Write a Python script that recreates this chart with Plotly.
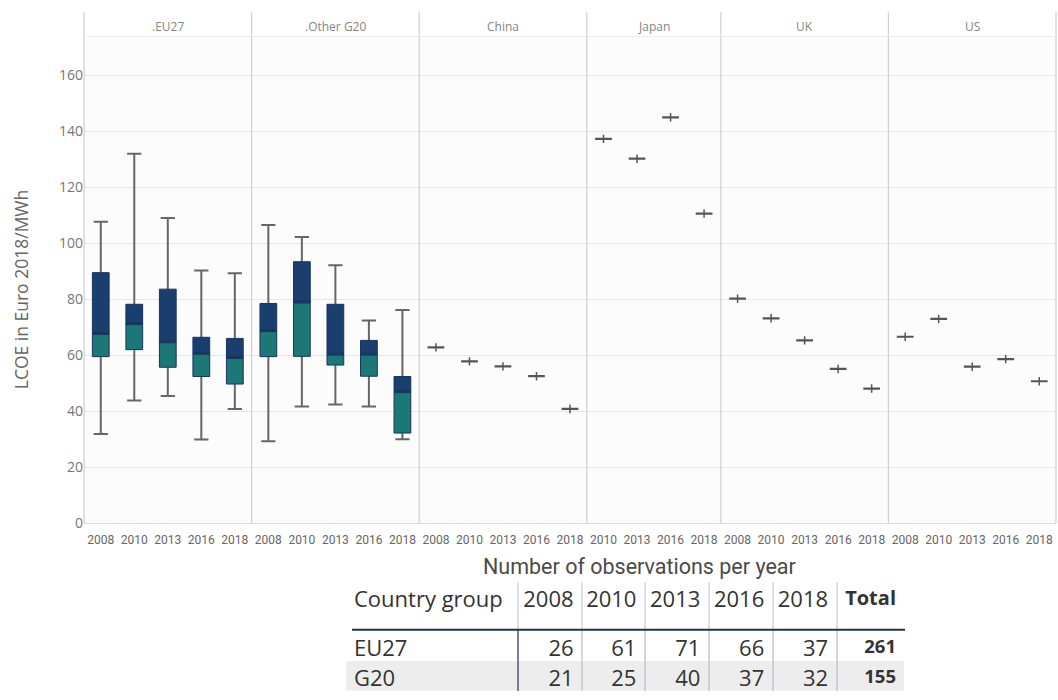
import plotly.graph_objects as go

# ---------------- data ----------------
years_all = ["2008", "2010", "2013", "2016", "2018"]
years_japan = ["2010", "2013", "2016", "2018"]
panel_names = [".EU27", ".Other G20", "China", "Japan", "UK", "US"]

# EU27 box statistics (LCOE, Euro 2018/MWh)
eu_low = [31.9, 43.8, 45.4, 29.9, 40.8]
eu_q1 = [59.5, 62.0, 55.7, 52.4, 49.7]
eu_med = [67.8, 71.3, 64.8, 60.7, 59.2]
eu_q3 = [89.5, 78.2, 83.6, 66.4, 66.0]
eu_high = [107.7, 132.0, 109.0, 90.3, 89.3]

# Other G20 box statistics
g20_low = [29.3, 41.7, 42.4, 41.7, 30.0]
g20_q1 = [59.5, 59.6, 56.5, 52.5, 32.2]
g20_med = [68.8, 79.0, 60.4, 60.4, 47.0]
g20_q3 = [78.5, 93.4, 78.2, 65.3, 52.4]
g20_high = [106.5, 102.2, 92.1, 72.4, 76.2]

# single-value countries
china_vals = [62.8, 57.8, 56.0, 52.5, 40.8]
japan_vals = [137.3, 130.2, 145.0, 110.6]
uk_vals = [80.2, 73.2, 65.3, 55.1, 48.1]
us_vals = [66.6, 73.0, 55.9, 58.6, 50.7]

# observation table
table_groups = ["EU27", "G20"]
obs_2008 = [26, 21]
obs_2010 = [61, 25]
obs_2013 = [71, 40]
obs_2016 = [66, 37]
obs_2018 = [37, 32]

y_ticks = [0, 20, 40, 60, 80, 100, 120, 140, 160]

# ---------------- styling ----------------
W, H = 1058, 700
NAVY = "#1a3f6f"
TEAL = "#1c7876"
EDGE = "#18355d"
WHISK = "#666666"
FONT = "Open Sans"

plot_left, plot_right = 84, 1056
plot_top, plot_bottom = 38, 530
header_top = 12
y_max = 173.5


def px_x(p):
    return p / W


def px_y(p):
    return 1 - p / H


panels = [
    dict(name=panel_names[0], years=years_all, low=eu_low, q1=eu_q1, med=eu_med, q3=eu_q3, high=eu_high),
    dict(name=panel_names[1], years=years_all, low=g20_low, q1=g20_q1, med=g20_med, q3=g20_q3, high=g20_high),
    dict(name=panel_names[2], years=years_all, vals=china_vals),
    dict(name=panel_names[3], years=years_japan, vals=japan_vals),
    dict(name=panel_names[4], years=years_all, vals=uk_vals),
    dict(name=panel_names[5], years=years_all, vals=us_vals),
]

n_total = sum(len(p["years"]) for p in panels)
cat_w = (plot_right - plot_left) / n_total

fig = go.Figure()
layout_axes = {}
annotations = []
shapes = []

x_cursor = plot_left
boundaries = [plot_left]
for i, p in enumerate(panels, start=1):
    n = len(p["years"])
    x0 = x_cursor
    x1 = x_cursor + n * cat_w
    x_cursor = x1
    boundaries.append(x1)
    xa = "x" if i == 1 else f"x{i}"
    key = "xaxis" if i == 1 else f"xaxis{i}"
    layout_axes[key] = dict(
        domain=[px_x(x0), px_x(x1)],
        anchor="y",
        type="category",
        categoryorder="array",
        categoryarray=p["years"],
        range=[-0.5, n - 0.5],
        showgrid=False,
        zeroline=False,
        showline=True,
        linecolor="#dcdcdc",
        linewidth=1,
        ticks="",
        ticklabelstandoff=5,
        tickfont=dict(family="Roboto", size=12, color="#666666"),
        fixedrange=True,
    )
    common = dict(xaxis=xa, yaxis="y", boxpoints=False, showlegend=False, hoverinfo="skip", width=0.5)
    if "vals" in p:
        v = p["vals"]
        fig.add_trace(go.Box(x=p["years"], q1=v, median=v, q3=v, lowerfence=v, upperfence=v,
                             whiskerwidth=0.8, fillcolor="rgba(0,0,0,0)",
                             line=dict(color="#555555", width=2.2), **common))
        fig.add_trace(go.Scatter(x=p["years"], y=v, xaxis=xa, yaxis="y", mode="markers",
                                 marker=dict(symbol="line-ns-open", size=6, color="#555555",
                                             line=dict(color="#555555", width=1.5)),
                                 showlegend=False, hoverinfo="skip"))
    else:
        # whiskers (through the full range)
        fig.add_trace(go.Box(x=p["years"], q1=p["med"], median=p["med"], q3=p["med"],
                             lowerfence=p["low"], upperfence=p["high"], whiskerwidth=0.85,
                             fillcolor="rgba(0,0,0,0)", line=dict(color=WHISK, width=2), **common))
        # lower half of the box (Q1 -> median)
        fig.add_trace(go.Box(x=p["years"], q1=p["q1"], median=p["med"], q3=p["med"],
                             lowerfence=p["q1"], upperfence=p["med"], whiskerwidth=0,
                             fillcolor=TEAL, line=dict(color=EDGE, width=1), **common))
        # upper half of the box (median -> Q3)
        fig.add_trace(go.Box(x=p["years"], q1=p["med"], median=p["med"], q3=p["q3"],
                             lowerfence=p["med"], upperfence=p["q3"], whiskerwidth=0,
                             fillcolor=NAVY, line=dict(color=EDGE, width=1), **common))
    annotations.append(dict(text=p["name"], x=px_x((x0 + x1) / 2), y=px_y(27), xref="paper", yref="paper",
                            xanchor="center", yanchor="middle", showarrow=False,
                            font=dict(family=FONT, size=12, color="#858585")))

# panel separators and header line
for b in boundaries:
    shapes.append(dict(type="line", xref="paper", yref="paper", x0=px_x(b), x1=px_x(b),
                       y0=px_y(plot_bottom), y1=px_y(header_top), line=dict(color="#cfcfcf", width=1.2)))
shapes.append(dict(type="line", xref="paper", yref="paper", x0=px_x(plot_left), x1=px_x(plot_right),
                   y0=px_y(37), y1=px_y(37), line=dict(color="#ececec", width=1)))

# y-axis title
annotations.append(dict(text="LCOE in Euro 2018/MWh", x=px_x(21), y=px_y(293), xref="paper", yref="paper",
                        xanchor="center", yanchor="middle", textangle=-90, showarrow=False,
                        font=dict(family=FONT, size=17.5, color="#666666")))

# table title
annotations.append(dict(text="Number of observations per year", x=px_x(639), y=px_y(574), xref="paper",
                        yref="paper", xanchor="center", yanchor="middle", showarrow=False,
                        font=dict(family="Roboto", size=21.5, color="#4a4a4a")))

# ---------------- table ----------------
obs_cols = [obs_2008, obs_2010, obs_2013, obs_2016, obs_2018]
totals = [sum(vals) for vals in zip(*obs_cols)]
header_vals = ["Country group"] + years_all + ["Total"]
cell_vals = [table_groups] + [[str(v) for v in c] for c in obs_cols] + [[str(t) for t in totals]]
row_fill = ["#ffffff", "#ededed"]

tab_x0, tab_x1, tab_top = 346, 905, 590
header_h, cell_h = 49, 30
col_widths = [172, 64, 63, 64, 64, 64, 68]
fig.add_trace(go.Table(
    domain=dict(x=[px_x(tab_x0), px_x(tab_x1)], y=[0, px_y(tab_top)]),
    columnwidth=col_widths,
    header=dict(values=header_vals, align=["left"] + ["right"] * 6, height=header_h,
                fill_color="#ffffff", line=dict(color="#ffffff", width=0),
                font=dict(family=FONT, size=[22] * 6 + [20], color="#333333",
                          weight=["normal"] * 6 + ["bold"])),
    cells=dict(values=cell_vals, align=["left"] + ["right"] * 6, height=cell_h,
               fill_color=[row_fill] * 7, line=dict(color="rgba(0,0,0,0)", width=0),
               font=dict(family=FONT, size=[22] * 6 + [18.5], color="#333333",
                         weight=["normal"] * 6 + ["bold"])),
))

# table rules
rule_y = tab_top + header_h - 1
col_edges = [tab_x0]
for w in col_widths:
    col_edges.append(col_edges[-1] + w)
for j, xe in enumerate(col_edges[1:-1]):
    shapes.append(dict(type="line", xref="paper", yref="paper", x0=px_x(xe), x1=px_x(xe),
                       y0=px_y(rule_y), y1=px_y(tab_top), line=dict(color="#b4c0d0", width=1)))
    shapes.append(dict(type="line", xref="paper", yref="paper", x0=px_x(xe), x1=px_x(xe),
                       y0=0, y1=px_y(rule_y),
                       line=dict(color="#2c4063" if j == 0 else "#9fb0c8", width=1.3 if j == 0 else 1)))
shapes.append(dict(type="line", xref="paper", yref="paper", x0=px_x(352), x1=px_x(tab_x1),
                   y0=px_y(rule_y), y1=px_y(rule_y), line=dict(color="#1f3250", width=2)))

fig.update_layout(
    width=W, height=H,
    margin=dict(l=0, r=0, t=0, b=0),
    paper_bgcolor="#ffffff",
    plot_bgcolor="#fcfcfc",
    boxmode="overlay",
    showlegend=False,
    font=dict(family=FONT),
    yaxis=dict(domain=[px_y(plot_bottom), px_y(plot_top)], range=[0, y_max], anchor="x",
               tickvals=y_ticks, showgrid=True, gridcolor="#e8e8e8", gridwidth=1, zeroline=False,
               showline=False, ticks="", tickfont=dict(family=FONT, size=14, color="#777777"),
               fixedrange=True),
    annotations=annotations,
    shapes=shapes,
    **layout_axes,
)

fig.write_html("out.html", post_script="document.body.style.margin='0px';",
               config={"displayModeBar": False})
